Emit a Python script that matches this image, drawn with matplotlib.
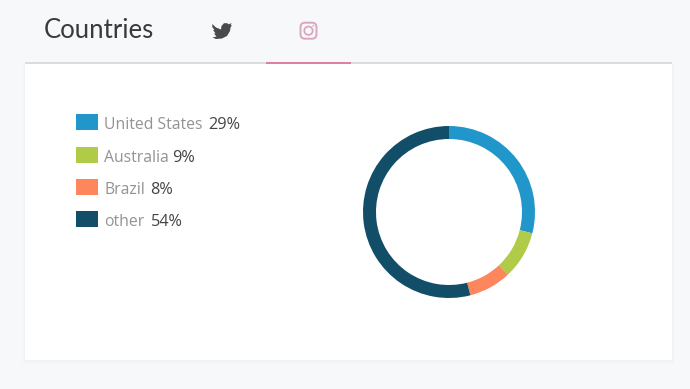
import matplotlib
matplotlib.use('Agg')
import matplotlib.pyplot as plt
from matplotlib.patches import Rectangle, FancyBboxPatch, Circle, Polygon

# data
categories = ['United States', 'Australia', 'Brazil', 'other']
values = [29, 9, 8, 54]
colors = ['#2196cb', '#b0cb48', '#fd865c', '#134e68']
value_labels = ['29%', '9%', '8%', '54%']
label_x = [208.5, 172.5, 150, 150.5]
row_y = [122, 155, 187, 219]

plt.rcParams['font.family'] = ['Open Sans', 'DejaVu Sans']

fig = plt.figure(figsize=(6.9, 3.89), dpi=100, facecolor='#f7f8fa')

# background axes in pixel coordinates
bg = fig.add_axes([0, 0, 1, 1])
bg.set_xlim(0, 690)
bg.set_ylim(389, 0)
bg.axis('off')

# card with a faint shadow
for grow, col in [(3, '#f6f7f9'), (2, '#f4f5f7'), (1, '#f1f2f4')]:
    bg.add_patch(Rectangle((25 - grow, 64), 647 + 2 * grow, 296 + 1.5 * grow, color=col, lw=0))
bg.add_patch(Rectangle((25, 64), 647, 296, color='white', lw=0))

# tab line
bg.add_patch(Rectangle((25, 61.5), 647, 2.5, color='#dcdcde', lw=0))
bg.add_patch(Rectangle((265.5, 61.5), 85.5, 2.5, color='#e07fa6', lw=0))

bg.text(44, 30, 'Countries', fontsize=18.5, family=['Lato', 'DejaVu Sans'], color='#3a3a3a', va='center', ha='left')

# twitter icon
bird = [(212.3, 24), (216, 27.5), (221, 29.5), (221.5, 26), (224, 23.2), (227, 23.2), (229, 24.3),
        (231.5, 23), (230.7, 25.5), (232, 25.2), (230.5, 27.5), (230, 31), (227, 36), (222, 38.5),
        (216, 39), (212.5, 37.5), (216.5, 36.5), (214, 33.5), (215.5, 33.3), (213, 30), (214.5, 30.2), (212.3, 27)]
bg.add_patch(Polygon(bird, closed=True, color='#4a4a4a', lw=0))

# instagram icon
bg.add_patch(FancyBboxPatch((300.5, 22.7), 16, 16, boxstyle='round,pad=0,rounding_size=4.5',
                            fc='none', ec='#dba6bf', lw=1.4))
bg.add_patch(Circle((308.5, 30.7), 4.2, fc='none', ec='#dba6bf', lw=1.3))
bg.add_patch(Circle((313.3, 25.7), 0.9, color='#dba6bf', lw=0))

# legend
for cat, col, lab, lx, y in zip(categories, colors, value_labels, label_x, row_y):
    bg.add_patch(Rectangle((76, y - 8), 22, 16, color=col, lw=0))
    bg.text(104, y + 3, cat, fontsize=11.3, color='#939393', va='center', ha='left')
    bg.text(lx, y + 3, lab, fontsize=11.7, color='#444444', va='center', ha='left')

# donut
cx, cy, r = 449, 212, 86
ax = fig.add_axes([(cx - r) / 690, 1 - (cy + r) / 389, 2 * r / 690, 2 * r / 389])
ax.pie(values, colors=colors, startangle=90, counterclock=False, radius=1,
       wedgeprops=dict(width=13 / r, linewidth=0))
ax.set_xlim(-1, 1)
ax.set_ylim(-1, 1)

fig.savefig('out.png', dpi=100, facecolor=fig.get_facecolor())
